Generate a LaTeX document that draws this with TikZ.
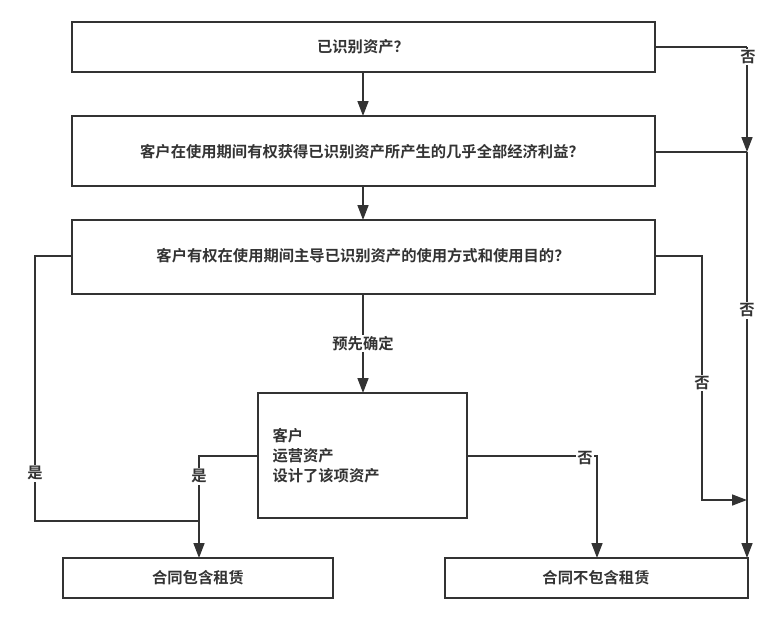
\documentclass[tikz,border=0pt]{standalone}
\usepackage{fontspec}
\setmainfont{Noto Sans CJK SC}[BoldFont={Noto Sans CJK SC Bold}]
\usetikzlibrary{arrows.meta}
\definecolor{ln}{HTML}{333333}
\begin{document}
\begin{tikzpicture}[x=1pt,y=-1pt,
  box/.style={draw=ln,line width=1.6pt,inner sep=0pt},
  txt/.style={font=\bfseries\fontsize{15.3}{20}\selectfont,text=ln},
  conn/.style={draw=ln,line width=1.6pt},
  arr/.style={conn,-{Triangle[length=15pt,width=11pt]}},
  lab/.style={txt,fill=white,inner sep=1.5pt}]
\useasboundingbox (0,0) rectangle (781,625);
\draw[box] (72,22) rectangle (655,72);
\draw[box] (72,116) rectangle (655,186);
\draw[box] (72,220) rectangle (655,294);
\draw[box] (258,393) rectangle (467,518);
\draw[box] (63,558) rectangle (333,598);
\draw[box] (445,558) rectangle (748,598);
\node[txt] (t1) at (363,47) {已识别资产？};
\node[txt] (t2) at (362,152) {客户在使用期间有权获得已识别资产所产生的几乎全部经济利益？};
\node[txt] (t3) at (363,256) {客户有权在使用期间主导已识别资产的使用方式和使用目的？};
\node[txt,align=left,anchor=west] (t4) at (269,456) {客户\\运营资产\\设计了该项资产};
\node[txt] (t5) at (198,578) {合同包含租赁};
\node[txt] (t6) at (596,578) {合同不包含租赁};
% named points
\coordinate (b1s) at (363,72);
\coordinate (b2n) at (363,116);
\coordinate (b2s) at (363,186);
\coordinate (b3n) at (363,220);
\coordinate (b3s) at (363,294);
\coordinate (b4n) at (363,393);
\coordinate (b1e) at (655,47);
\coordinate (b2e) at (655,152);
\coordinate (b3e) at (655,256);
\coordinate (b3w) at (72,256);
\coordinate (b4w) at (258,456);
\coordinate (b4e) at (467,456);
\coordinate (b5n) at (199,558);
\coordinate (b6n) at (597,558);
\coordinate (b7n) at (747,558);
\coordinate (c1) at (747,47);
\coordinate (c2) at (747,152);
\coordinate (c3) at (702,256);
\coordinate (c4) at (702,500);
\coordinate (c5) at (747,500);
\coordinate (c6) at (35,256);
\coordinate (c7) at (35,521);
\coordinate (c8) at (199,521);
\coordinate (c9) at (199,456);
\coordinate (c10) at (597,456);
% connectors
\draw[arr] (b1s) -- (b2n);
\draw[arr] (b2s) -- (b3n);
\draw[arr] (b3s) -- node[lab] (l1) {预先确定} (b4n);
\draw[conn] (b1e) -- (c1);
\draw[arr] (c1) -- (c2);
\draw[conn] (b2e) -- (c2);
\draw[arr] (c2) -- node[lab,pos=0.39] (l3) {否} (b7n);
\node[lab] (l2) at (748,57) {否};
\draw[arr] (b3e) -- (c3) -- node[lab,pos=0.52] (l4) {否} (c4) -- (c5);
\draw[conn] (b3w) -- (c6) -- node[lab,pos=0.82] (l5) {是} (c7) -- (c8);
\draw[arr] (b4w) -- (c9) -- node[lab,pos=0.2] (l6) {是} (b5n);
\draw[arr] (b4e) -- (c10) -- (b6n);
\node[lab] (l7) at (585,458) {否};
\end{tikzpicture}
\end{document}
